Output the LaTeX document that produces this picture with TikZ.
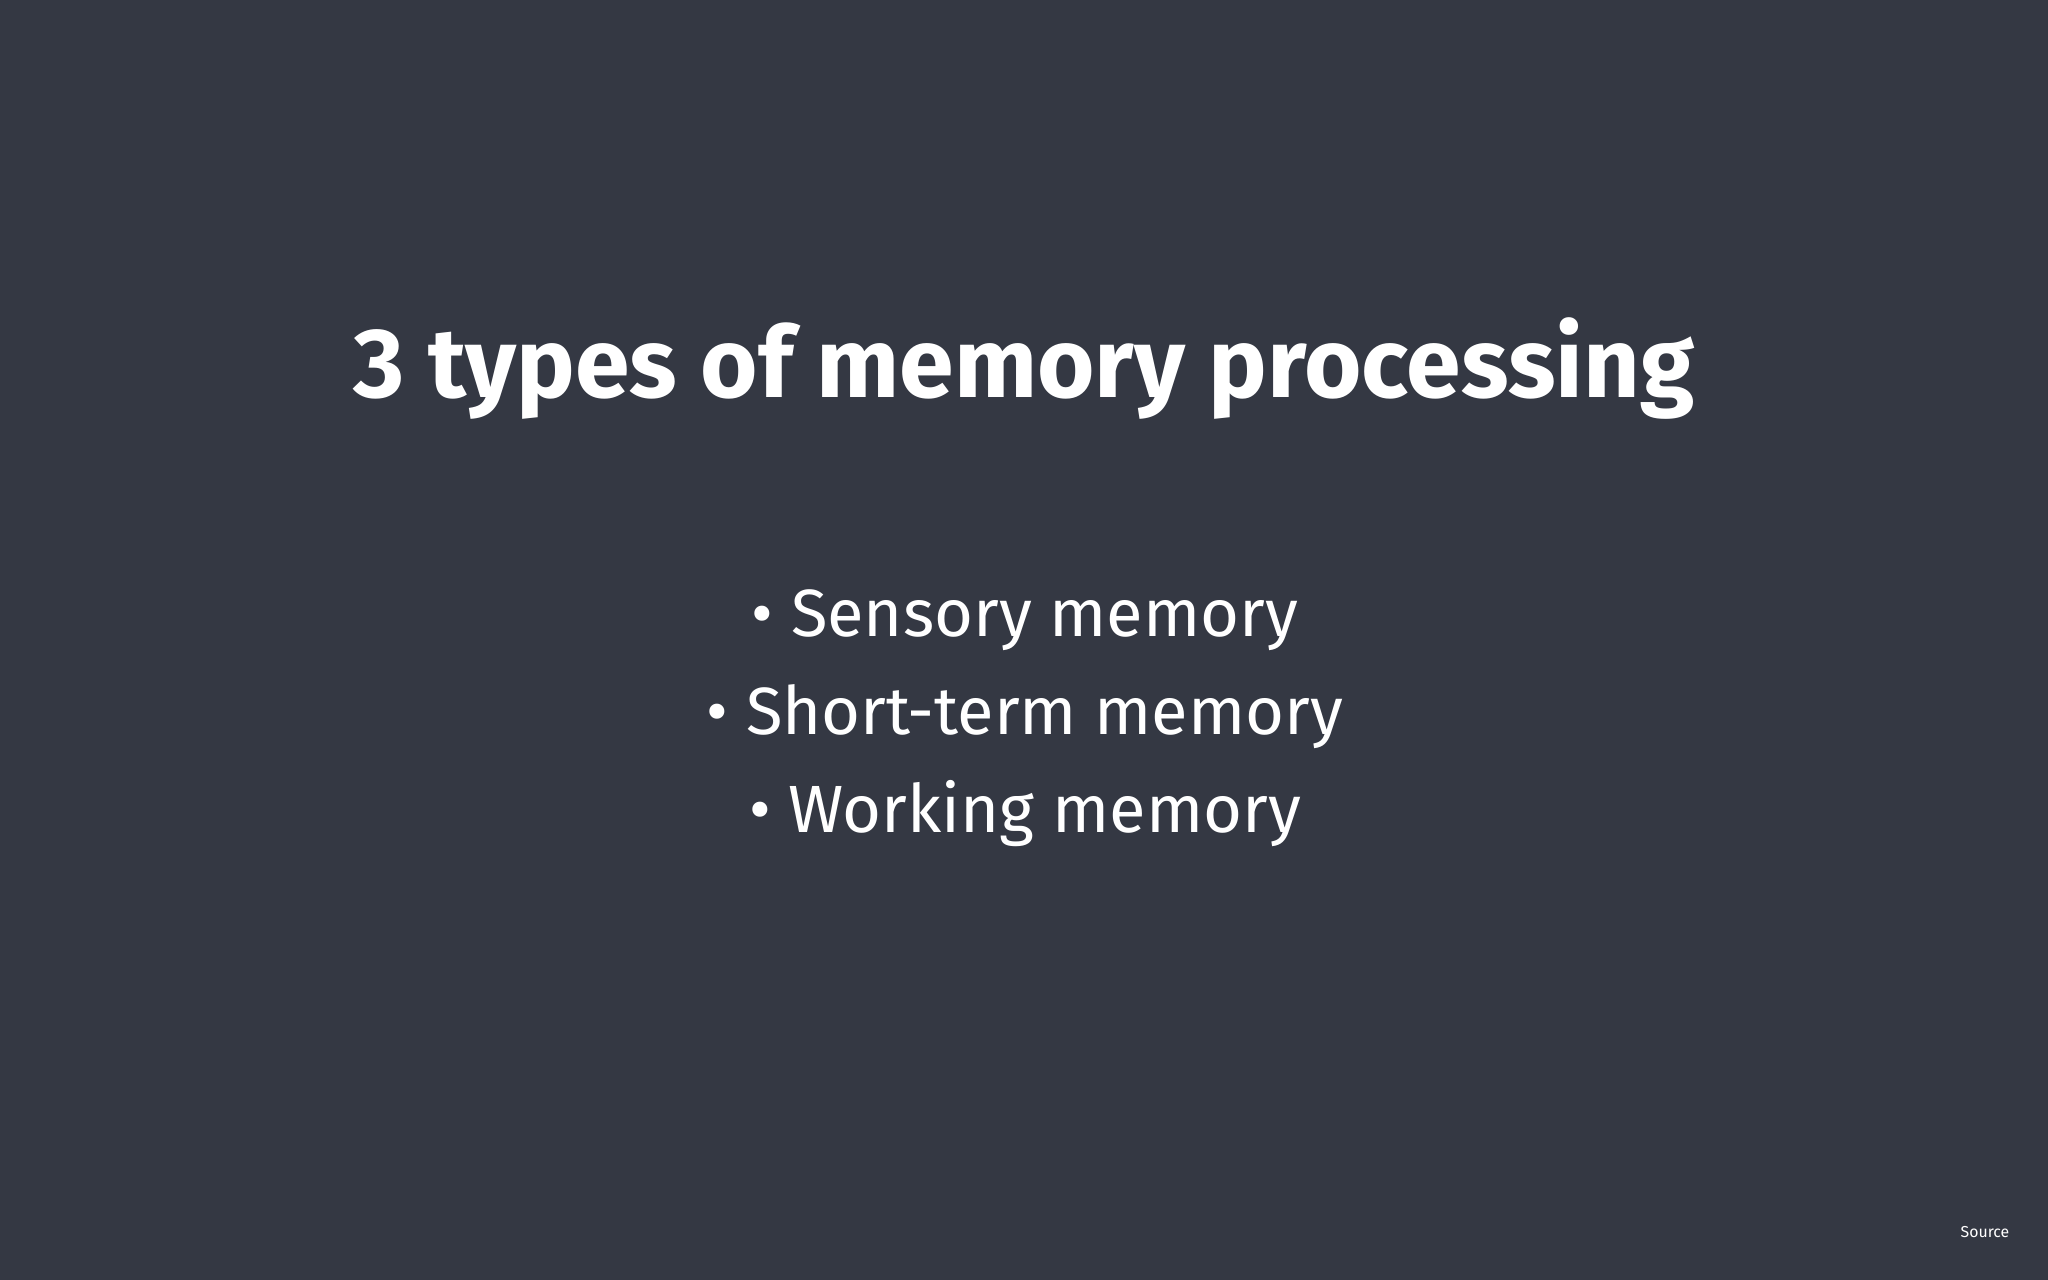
\documentclass[tikz,border=0pt]{standalone}
\usepackage{fontspec}
\setmainfont{Fira Sans}
\definecolor{bg}{HTML}{343843}
\begin{document}
\begin{tikzpicture}[x=0.01cm,y=-0.01cm,
  txt/.style={text=white,inner sep=0pt,anchor=base},
  item/.style={txt,font=\fontsize{19}{22}\selectfont}]
\fill[bg] (0,0) rectangle (2048,1280);
\useasboundingbox (0,0) rectangle (2048,1280);
\node[txt,font=\fontsize{28}{32}\selectfont\bfseries] (title) at (1024,398) {3 types of memory processing};
\node[item] (a) at (1025,637) {\textbullet\ Sensory memory};
\node[item] (b) at (1025,735) {\textbullet\ Short-term memory};
\node[item] (c) at (1025,833) {\textbullet\ Working memory};
\node[txt,font=\fontsize{4.5}{5}\selectfont] (src) at (1985,1238) {Source};
\end{tikzpicture}
\end{document}
